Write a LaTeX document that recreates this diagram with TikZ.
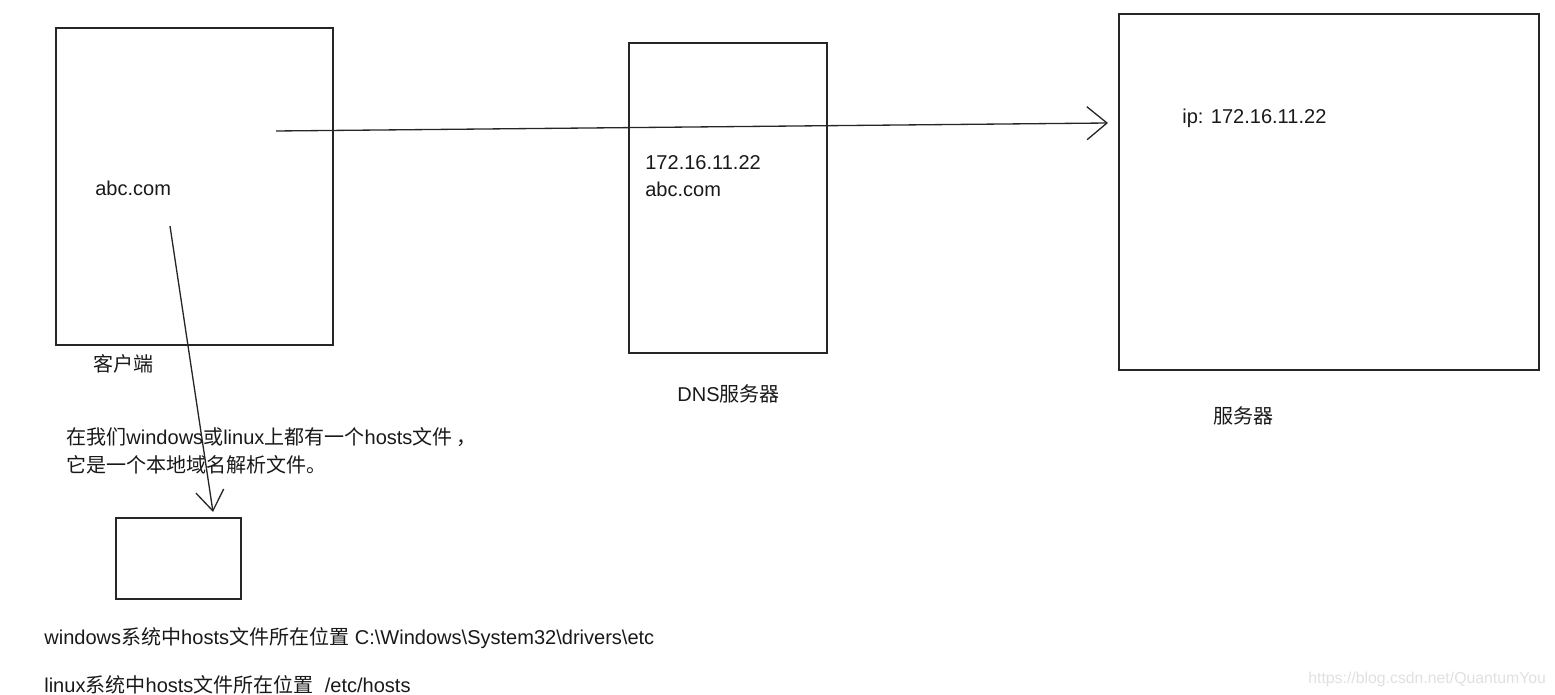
\documentclass[tikz,border=0pt]{standalone}
\usepackage{fontspec}
\setmainfont{Liberation Sans}
\newfontfamily\cjk{Noto Sans CJK SC}
\usepackage{xcolor}
\usetikzlibrary{arrows.meta}

\tikzset{
    box/.style={draw=black!85, line width=0.9pt, inner sep=0pt},
    txt/.style={anchor=base west, inner sep=0pt, text=black!90, font=\fontsize{11.4}{13.6}\selectfont},
    conn/.style={draw=black!85, line width=0.75pt, -{Straight Barb[length=4mm, width=6.6mm, line width=0.75pt]}}
}

\begin{document}
\begin{tikzpicture}[x=0.02cm, y=-0.02cm]
            \useasboundingbox (0,0) rectangle (1555,695);
            \node (client) [box, minimum width=5.54cm, minimum height=6.34cm] at (194.5,186.5) {};
            \node (dns) [box, minimum width=3.96cm, minimum height=6.2cm] at (728,198) {};
            \node (server) [box, minimum width=8.4cm, minimum height=7.12cm] at (1329,192) {};
            \node (hosts) [box, minimum width=2.5cm, minimum height=1.62cm] at (178.5,558.5) {};

            \node (domain) [txt] at (95,196) {abc.com};
            \node (clientlbl) [txt] at (93,372) {\cjk 客户端};
            \node (dnsip) [txt] at (645,170) {172.16.11.22};
            \node (dnsname) [txt] at (645,197) {abc.com};
            \node (dnslbl) [txt] at (677,402) {DNS{\cjk 服务器}};
            \node (serverip) [txt] at (1182,124) {ip: 172.16.11.22};
            \node (serverlbl) [txt] at (1213,424) {\cjk 服务器};
            \node (note1) [txt] at (66,445) {{\cjk 在我们}windows{\cjk 或}linux{\cjk 上都有一个}hosts{\cjk 文件\hspace{2pt}，}};
            \node (note2) [txt] at (66,473) {\cjk 它是一个本地域名解析文件。};
            \node (winpath) [txt] at (44,644) {windows{\cjk 系统中}hosts{\cjk 文件所在位置} C:\textbackslash Windows\textbackslash System32\textbackslash drivers\textbackslash etc};
            \node (linuxpath) [txt] at (44,692) {linux{\cjk 系统中}hosts{\cjk 文件所在位置}\ \ /etc/hosts};
            \node (mark) [anchor=base west, inner sep=0pt, text=black!12, font=\fontsize{9}{11}\selectfont] at (1308,683) {https://blog.csdn.net/QuantumYou};

            % request goes straight through the DNS box to the server
            \coordinate (req) at (276,131);
            \coordinate (reqend) at (1108,123);
            \draw [conn] (req) -- (reqend);
            \coordinate (look) at (170,226);
            \coordinate (lookend) at (213,512);
            \draw [conn, -{Straight Barb[length=4mm, width=5.6mm, line width=0.75pt]}] (look) -- (lookend);
        \end{tikzpicture}
\end{document}
